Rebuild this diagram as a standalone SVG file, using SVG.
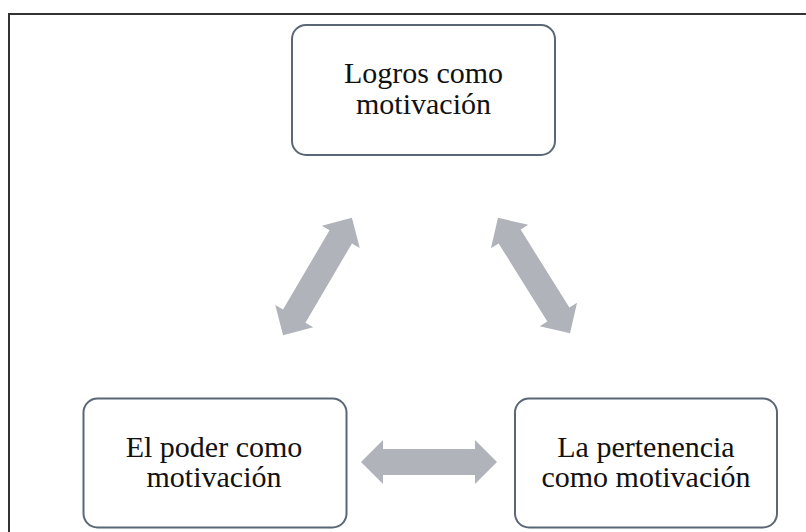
<svg xmlns="http://www.w3.org/2000/svg" width="806" height="532" viewBox="0 0 806 532">
  <defs>
    <style>
      .box { fill: #ffffff; stroke: #5b6776; stroke-width: 2; }
      .lbl { font-size: 30px; fill: #111111; text-anchor: middle; }
      .arrow { fill: #b0b3ba; }
      .frame { fill: none; stroke: #333333; stroke-width: 2; }
    </style>
    <path id="dblArrow" d="M -68 0 L -46 -22 L -46 -13 L 46 -13 L 46 -22 L 68 0 L 46 22 L 46 13 L -46 13 L -46 22 Z"/>
  </defs>
  <rect x="0" y="0" width="806" height="532" fill="#ffffff"/>
  <path class="frame" d="M 9 540 L 9 14 L 820 14"/>

  <g id="connectors">
    <use href="#dblArrow" class="arrow" transform="translate(317.5 276.5) rotate(-59.6)"/>
    <use href="#dblArrow" class="arrow" transform="translate(534 275.5) rotate(58)"/>
    <use href="#dblArrow" class="arrow" transform="translate(429 462)"/>
  </g>

  <g font-family="'Liberation Serif', 'DejaVu Serif', serif">
    <g id="node-logros">
      <rect class="box" x="292" y="25" width="263" height="130" rx="14" ry="14"/>
      <text class="lbl" x="423.5" y="83">Logros como</text>
      <text class="lbl" x="423.5" y="114">motivación</text>
    </g>

    <g id="node-poder">
      <rect class="box" x="83.5" y="398.5" width="263" height="129" rx="14" ry="14"/>
      <text class="lbl" x="214" y="457">El poder como</text>
      <text class="lbl" x="214" y="487">motivación</text>
    </g>

    <g id="node-pertenencia">
      <rect class="box" x="515" y="398.5" width="262" height="129" rx="14" ry="14"/>
      <text class="lbl" x="646" y="457">La pertenencia</text>
      <text class="lbl" x="646" y="487">como motivación</text>
    </g>
  </g>
</svg>
